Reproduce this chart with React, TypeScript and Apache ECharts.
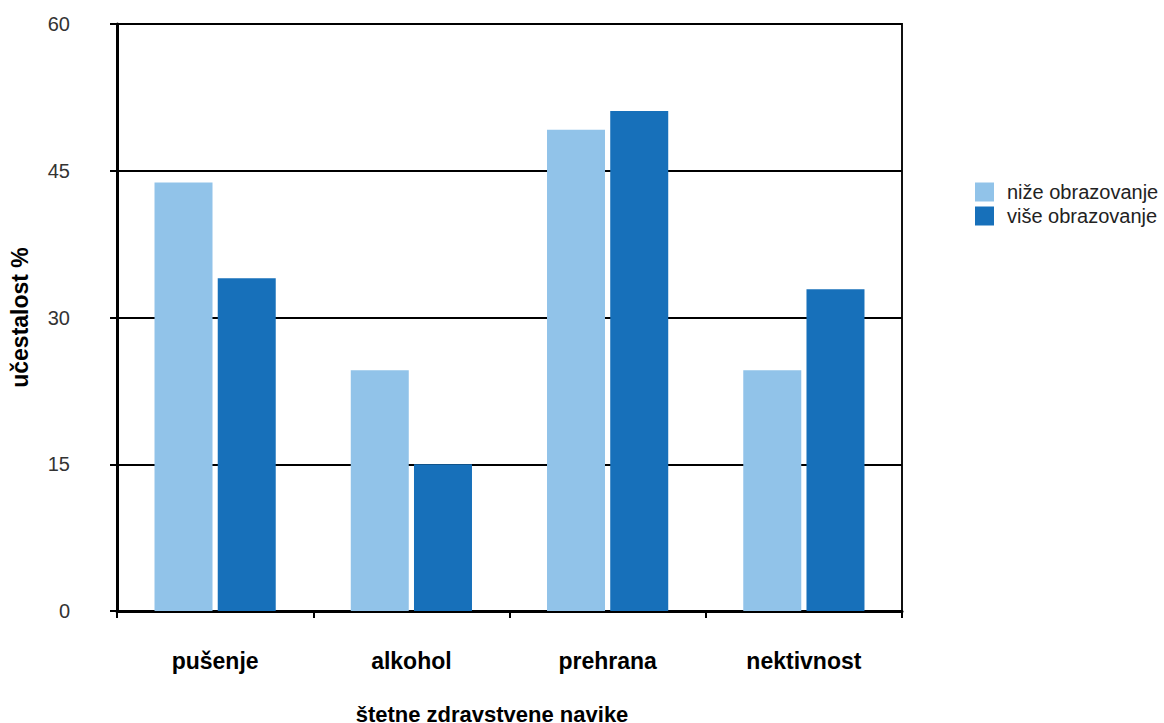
import React, { useEffect, useRef } from "react";
import * as echarts from "echarts";

const categories = ["pušenje", "alkohol", "prehrana", "nektivnost"];
const nizeObrazovanje = [43.8, 24.6, 49.2, 24.6];
const viseObrazovanje = [34.0, 15.0, 51.1, 32.9];
const seriesNames = ["niže obrazovanje", "više obrazovanje"];
const yTicks = { min: 0, max: 60, interval: 15 };
const xAxisName = "štetne zdravstvene navike";
const yAxisName = "učestalost %";

export default function App() {
  const ref = useRef<HTMLDivElement>(null);
  useEffect(() => {
    if (!ref.current) return;
    const chart = echarts.init(ref.current, undefined, { renderer: "svg" });
    const font = "'Liberation Sans', Arial, Helvetica, sans-serif";
    chart.setOption({
      animation: false,
      textStyle: { fontFamily: font },
      grid: {
        left: 117,
        right: 262,
        top: 24,
        bottom: 112,
        outerBoundsMode: "none",
        containLabel: false,
        show: true,
        borderColor: "#111",
        borderWidth: 2,
        backgroundColor: "transparent",
      },
      legend: {
        orient: "vertical",
        left: 975,
        top: 182,
        padding: 0,
        itemWidth: 19,
        itemHeight: 19,
        itemGap: 4,
        icon: "rect",
        data: seriesNames,
        textStyle: {
          fontFamily: font,
          fontSize: 20,
          color: "#222",
          padding: [0, 0, 0, 8],
        },
      },
      xAxis: {
        type: "category",
        data: categories,
        name: xAxisName,
        nameLocation: "middle",
        nameGap: 92,
        nameTextStyle: {
          fontFamily: font,
          fontSize: 22,
          fontWeight: "bold",
          color: "#000",
          padding: [0, 35, 0, 0],
        },
        axisLine: { show: true, lineStyle: { color: "#000", width: 3 } },
        axisTick: {
          show: true,
          interval: 0,
          alignWithLabel: false,
          length: 7,
          lineStyle: { color: "#000", width: 2 },
        },
        axisLabel: {
          margin: 38,
          fontFamily: font,
          fontSize: 23,
          fontWeight: "bold",
          color: "#000",
        },
      },
      yAxis: {
        type: "value",
        min: yTicks.min,
        max: yTicks.max,
        interval: yTicks.interval,
        name: yAxisName,
        nameLocation: "middle",
        nameGap: 86,
        nameTextStyle: {
          fontFamily: font,
          fontSize: 23,
          fontWeight: "bold",
          color: "#000",
        },
        axisLine: { show: true, lineStyle: { color: "#000", width: 3 } },
        axisTick: { show: true, length: 7, lineStyle: { color: "#000", width: 2 } },
        splitLine: { show: true, lineStyle: { color: "#000", width: 2 } },
        axisLabel: {
          margin: 47,
          fontFamily: font,
          fontSize: 20,
          color: "#333",
          align: "right",
        },
      },
      series: [
        {
          name: seriesNames[0],
          type: "bar",
          data: nizeObrazovanje,
          barWidth: 58,
          barGap: "9%",
          itemStyle: { color: "#91C3E9" },
        },
        {
          name: seriesNames[1],
          type: "bar",
          data: viseObrazovanje,
          barWidth: 58,
          barGap: "9%",
          itemStyle: { color: "#1770BA" },
        },
      ],
    });
    return () => chart.dispose();
  }, []);
  return (
    <div
      ref={ref}
      style={{ position: "fixed", left: 0, top: 0, width: 1164, height: 723, background: "#fff" }}
    />
  );
}
